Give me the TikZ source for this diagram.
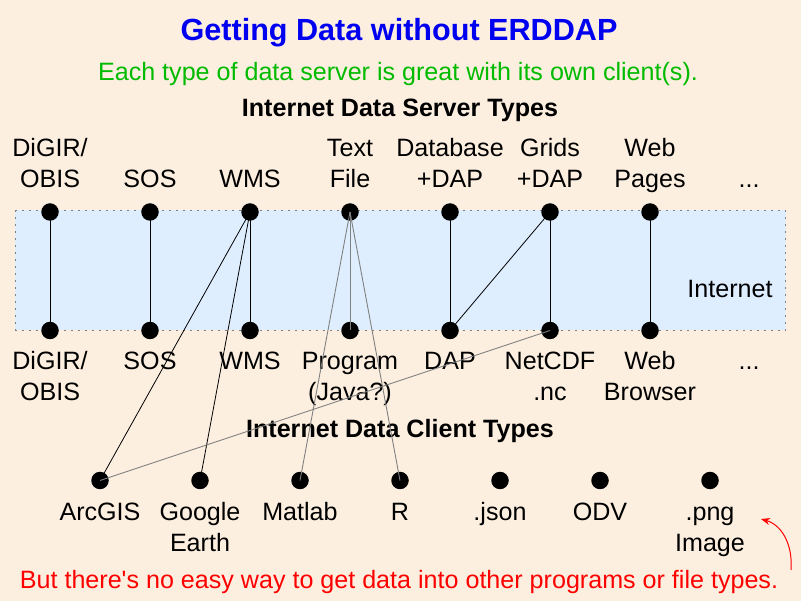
\documentclass[tikz,border=0pt]{standalone}
\usepackage{fontspec}
\setmainfont{Liberation Sans}
\usetikzlibrary{arrows.meta}
\definecolor{bgpeach}{RGB}{253,239,224}
\definecolor{bandblue}{RGB}{222,238,255}
\definecolor{titleblue}{RGB}{0,0,240}
\definecolor{subgreen}{RGB}{0,187,0}
\definecolor{linegray}{RGB}{128,128,128}
\definecolor{notered}{RGB}{255,0,0}
\pgfdeclarelayer{bg}
\pgfsetlayers{bg,main}
\tikzset{
  dot/.style={circle,fill=black,minimum size=17.5pt,inner sep=0pt},
  lbl/.style={anchor=base,inner sep=0pt,align=center,font=\fontsize{25.1}{31}\selectfont},
  head/.style={anchor=base,inner sep=0pt,font=\fontsize{25.1}{31}\selectfont\bfseries},
  vlink/.style={line width=1pt},
  dlink/.style={line width=0.8pt},
  glink/.style={line width=0.9pt,draw=linegray}
}
\begin{document}
\begin{tikzpicture}[x=1pt,y=-1pt]
\useasboundingbox (0,0) rectangle (801,601);
\begin{pgfonlayer}{bg}
  \fill[bgpeach] (0,0) rectangle (801,601);
  \draw[fill=bandblue,draw=linegray,line width=0.8pt,dash pattern=on 2pt off 5pt]
    (15,210.5) rectangle (785.5,330);
\end{pgfonlayer}

% titles
\node[anchor=base,inner sep=0pt,font=\fontsize{30.6}{36}\selectfont\bfseries,text=titleblue] (title) at (399,41) {Getting Data without ERDDAP};
\node[lbl,text=subgreen] (sub) at (398,81) {Each type of data server is great with its own client(s).};
\node[head] (servhead) at (400,117) {Internet Data Server Types};
\node[head] (clihead) at (400,438) {Internet Data Client Types};
\node[lbl] (inet) at (730,298) {Internet};
\node[lbl,text=notered] (note) at (399,588) {But there\textquotesingle s no easy way to get data into other programs or file types.};

% server labels (base = last line)
\node[lbl] (ls1) at (50,188) {DiGIR/\\OBIS};
\node[lbl] (ls2) at (150,188) {SOS};
\node[lbl] (ls3) at (250,188) {WMS};
\node[lbl] (ls4) at (350,188) {Text\\File};
\node[lbl] (ls5) at (450,188) {Database\\+DAP};
\node[lbl] (ls6) at (550,188) {Grids\\+DAP};
\node[lbl] (ls7) at (650,188) {Web\\Pages};
\node[lbl] (ls8) at (749,188) {...};

% bottom-of-internet labels
\node[lbl] (lb1) at (50,401) {DiGIR/\\OBIS};
\node[lbl] (lb2) at (150,370) {SOS};
\node[lbl] (lb3) at (250,370) {WMS};
\node[lbl] (lb4) at (350,401) {Program\\(Java?)};
\node[lbl] (lb5) at (450,370) {DAP};
\node[lbl] (lb6) at (550,401) {NetCDF\\.nc};
\node[lbl] (lb7) at (650,401) {Web\\Browser};
\node[lbl] (lb8) at (749,370) {...};

% client labels
\node[lbl] (lc1) at (100,520) {ArcGIS};
\node[lbl] (lc2) at (200,551) {Google\\Earth};
\node[lbl] (lc3) at (300,520) {Matlab};
\node[lbl] (lc4) at (400,520) {R};
\node[lbl] (lc5) at (500,520) {.json};
\node[lbl] (lc6) at (600,520) {ODV};
\node[lbl] (lc7) at (710,551) {.png\\Image};

% dots
\foreach \i/\x in {1/50,2/150,3/250,4/350,5/450,6/550,7/650}{
  \node[dot] (s\i) at (\x,212) {};
  \node[dot] (b\i) at (\x,330.5) {};
}
\foreach \i/\x in {1/100,2/200,3/300,4/400,5/500,6/600,7/710}{
  \node[dot] (c\i) at (\x,480.5) {};
}

% connectors
\draw[vlink] (s1.center) -- (b1.center);
\draw[vlink] (s2.center) -- (b2.center);
\draw[vlink] (s3.center) -- (b3.center);
\draw[dlink] (s3.center) -- (c1.center);
\draw[dlink] (s3.center) -- (c2.center);
\draw[glink] (s4.center) -- (b4.center);
\draw[glink] (s4.center) -- (c3.center);
\draw[glink] (s4.center) -- (c4.center);
\draw[vlink] (s5.center) -- (b5.center);
\draw[dlink] (s6.center) -- (b5.center);
\draw[vlink] (s6.center) -- (b6.center);
\draw[vlink] (s7.center) -- (b7.center);
\draw[glink] (b6.center) -- (c1.center);

% red arrow
\coordinate (arrstart) at (791,570);
\coordinate (arrend) at (761,519);
\draw[notered,line width=1pt,-{Stealth[length=9pt,width=7pt]}]
  (arrstart) .. controls (793,545) and (782,525) .. (arrend);
\end{tikzpicture}
\end{document}
